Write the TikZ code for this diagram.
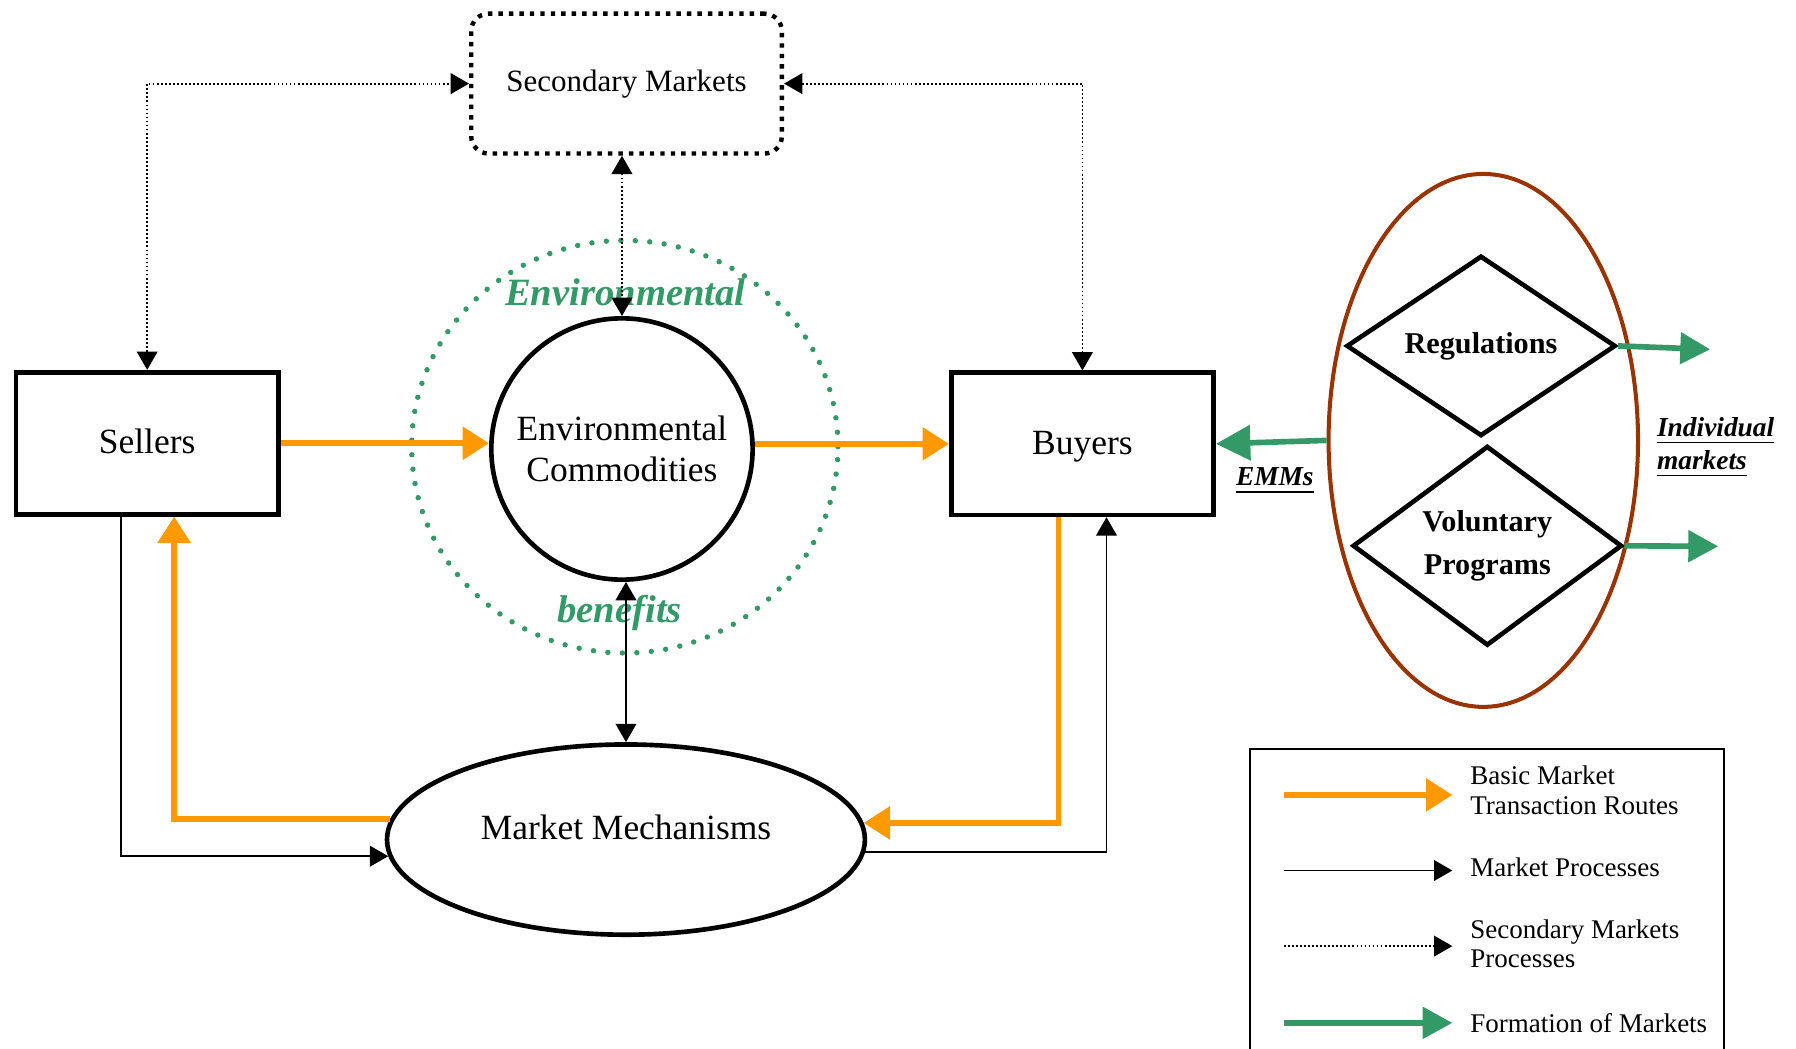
\documentclass[tikz,border=0pt]{standalone}
\usepackage{fontspec}
\setmainfont{Liberation Serif}
\usetikzlibrary{shapes.geometric,arrows.meta}
\definecolor{mkorange}{HTML}{FF9900}
\definecolor{mkgreen}{HTML}{339966}
\definecolor{mkbrown}{HTML}{993300}
\tikzset{
  party/.style={draw,rectangle,line width=1.15pt,minimum width=2.29cm,minimum height=1.24cm,text height=1.6ex,text depth=0.5ex,font=\fontsize{8.8}{10.2}\selectfont},
  rulebox/.style={draw,diamond,line width=1.15pt,minimum width=2.35cm,minimum height=1.57cm,inner sep=0pt,align=center,font=\bfseries\fontsize{7.5}{10.5}\selectfont},
  basicroute/.style={mkorange,line width=1.4pt,-{Triangle[length=0.23cm,width=0.28cm]}},
  marketproc/.style={line width=0.45pt},
  secproc/.style={line width=0.45pt,dash pattern=on 0.45pt off 0.55pt},
  formroute/.style={mkgreen,line width=1.4pt,-{Triangle[length=0.26cm,width=0.27cm]}},
  greenlabel/.style={text=mkgreen,font=\bfseries\itshape\fontsize{9.6}{11}\selectfont},
  notelabel/.style={font=\bfseries\itshape\fontsize{6.8}{8.2}\selectfont},
  legendtext/.style={anchor=west,align=left,inner sep=0pt,font=\fontsize{6.7}{7.4}\selectfont}
}
\begin{document}
\begin{tikzpicture}[x=0.01cm,y=-0.01cm,>={Triangle[length=0.16cm,width=0.18cm]}]
\useasboundingbox (0,0) rectangle (1568,915);
% market participants and commodities
\node[party] (sellers) at (128.5,387) {Sellers};
\node[party] (buyers) at (945,387.5) {Buyers};
\node[draw,circle,line width=1.15pt,minimum size=2.28cm,inner sep=0pt,align=center,font=\fontsize{8.8}{10.2}\selectfont] (envc) at (543,392) {Environmental\\Commodities};
\node[draw=mkgreen,ellipse,line width=1.35pt,dash pattern=on 0pt off 3.6pt,line cap=round,minimum width=3.72cm,minimum height=3.6cm] (envring) at (545.5,390) {};
\node[draw,rectangle,rounded corners=0.15cm,line width=1.1pt,dash pattern=on 1.1pt off 1.5pt,minimum width=2.71cm,minimum height=1.22cm,font=\fontsize{7.7}{9}\selectfont] (sm) at (547,73) {Secondary Markets};
\node[draw,ellipse,line width=1.15pt,minimum width=4.17cm,minimum height=1.66cm,text depth=0.22cm,font=\fontsize{8.8}{10.2}\selectfont] (mm) at (546.5,733) {Market Mechanisms};
\node[greenlabel] (envword) at (546,255) {Environmental};
\node[greenlabel] (benword) at (541,535) {benefits};
% formation of markets
\node[draw=mkbrown,ellipse,line width=1pt,minimum width=2.7cm,minimum height=4.65cm] (formring) at (1295,384.5) {};
\node[rulebox] (reg) at (1293,302) {Regulations};
\node[rulebox] (vol) at (1298.5,476.5) {Voluntary\\Programs};
\coordinate (regout) at (1493,305);
\coordinate (volout) at (1500,477);
\node[notelabel] (emms) at (1113,420) {\underline{EMMs}};
\node[notelabel,anchor=west,align=left,inner sep=0pt] (indiv) at (1446,391) {\underline{Individual}\\\underline{markets}};
% secondary markets processes
\draw[secproc,<->] (sellers.north) |- (sm.west);
\draw[secproc,<->] (sm.east) -| (buyers.north);
\draw[secproc,<->] (envc.north |- sm.south) -- (envc.north);
% basic market transaction routes
\draw[basicroute] (sellers.east) -- (sellers.east -| envc.west);
\draw[basicroute] (envc.east |- buyers.west) -- (buyers.west);
\draw[basicroute] (mm.175) -| ([xshift=0.235cm]sellers.south);
\draw[basicroute] ([xshift=-0.21cm]buyers.south) |- (mm.4.4);
% market processes
\draw[marketproc,->] ([xshift=-0.225cm]sellers.south) |- (mm.184);
\draw[marketproc,->] (mm.-3.6) -| ([xshift=0.21cm]buyers.south);
\draw[marketproc,<->] (mm.north |- envc.south) -- (mm.north);
% formation of markets
\draw[formroute,-{Triangle[length=0.3cm,width=0.3cm]}] (formring.west) -- (buyers.east);
\draw[formroute] (reg.east) -- (regout);
\draw[formroute] (vol.east) -- (volout);
% legend
\draw[line width=0.5pt] (1091,930) |- (1505,654) -- (1505,930);
\coordinate (ka) at (1121,694);
\coordinate (kb) at (1268,694);
\coordinate (kc) at (1121,760);
\coordinate (kd) at (1268,760);
\coordinate (ke) at (1121,826);
\coordinate (kf) at (1268,826);
\coordinate (kg) at (1121,893);
\coordinate (kh) at (1268,893);
\draw[basicroute] (ka) -- (kb);
\draw[marketproc,->] (kc) -- (kd);
\draw[secproc,->] (ke) -- (kf);
\draw[formroute] (kg) -- (kh);
\node[legendtext] (kbasic) at (1283,690) {Basic Market\\Transaction Routes};
\node[legendtext] (kproc) at (1283,757) {Market Processes};
\node[legendtext] (ksec) at (1283,824) {Secondary Markets\\Processes};
\node[legendtext] (kform) at (1283,893) {Formation of Markets};
\end{tikzpicture}
\end{document}
